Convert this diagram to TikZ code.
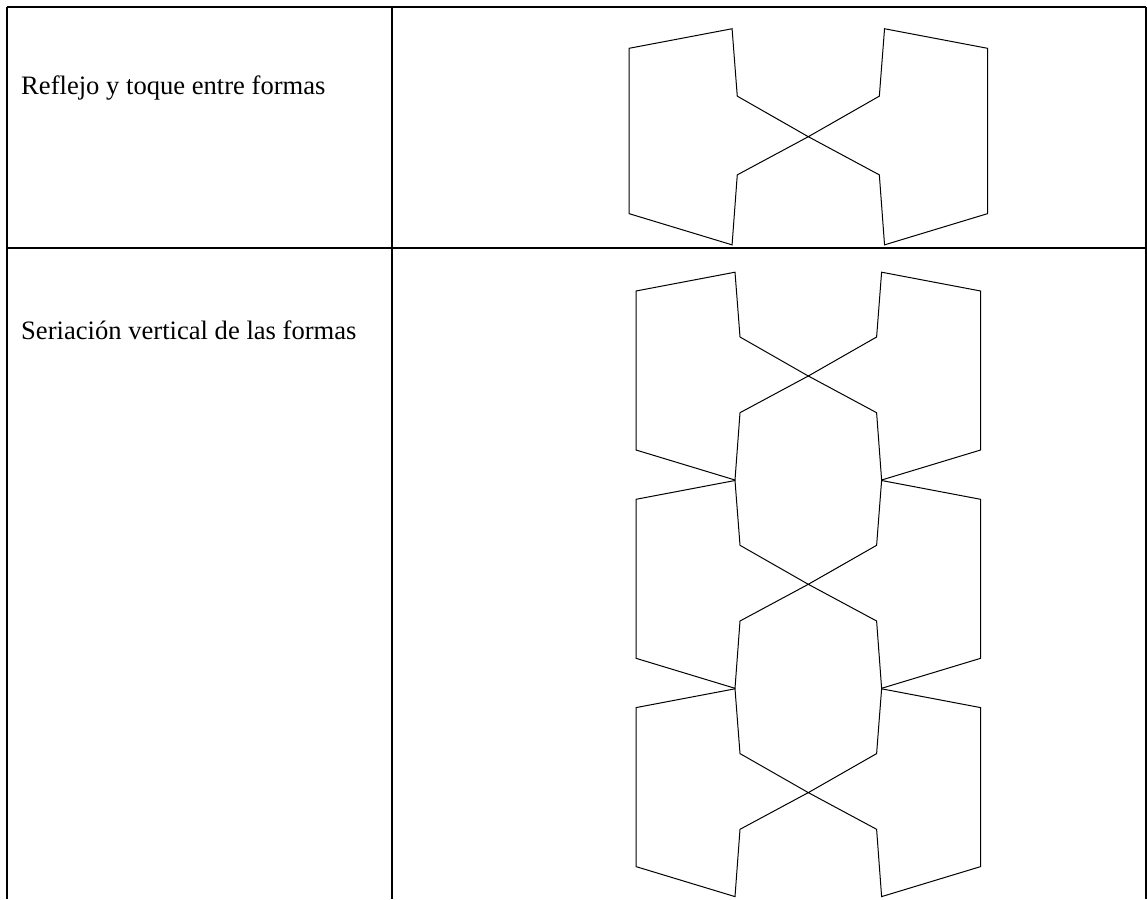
\documentclass[tikz,border=0pt]{standalone}
\usepackage{fontspec}
\setmainfont{Liberation Serif}
\tikzset{
  tableline/.style={line width=2pt, black},
  formline/.style={line width=1pt, black, line join=miter},
  celltext/.style={anchor=base west, inner sep=0pt, font=\fontsize{26.6}{32}\selectfont},
  formshape/.pic={
    \draw[formline] (-172.3,-85) -- (-73.3,-103.8) -- (-68.3,-39) -- (0,0)
      -- (-68.3,36.7) -- (-73.3,104) -- (-172.3,74) -- cycle;
  }
}
\begin{document}
\begin{tikzpicture}[x=1pt,y=-1pt]
\useasboundingbox (0,0) rectangle (1147,899);
% table
\coordinate (tl) at (7,7);
\coordinate (tm) at (391.7,7);
\coordinate (tr) at (1146,7);
\coordinate (ml) at (7,248.3);
\coordinate (mr) at (1146,248.3);
\coordinate (bl) at (7,899);
\coordinate (bm) at (391.7,899);
\coordinate (br) at (1146,899);
\draw[tableline] (tl) -- (tr);
\draw[tableline] (ml) -- (mr);
\draw[tableline] (tl) -- (bl);
\draw[tableline] (tm) -- (bm);
\draw[tableline] (tr) -- (br);
% labels
\node[celltext] (t1) at (21,94) {Reflejo y toque entre formas};
\node[celltext] (t2) at (21,339) {Seriación vertical de las formas};
% row 1: reflection and touch
\pic[scale=1.04] at (808.3,136.7) {formshape};
\pic[scale=1.04, xscale=-1] at (808.3,136.7) {formshape};
% row 2: vertical series
\foreach \cy in {376,584.3,792.6}{
  \pic at (808.3,\cy) {formshape};
  \pic[xscale=-1] at (808.3,\cy) {formshape};
}
\end{tikzpicture}
\end{document}
